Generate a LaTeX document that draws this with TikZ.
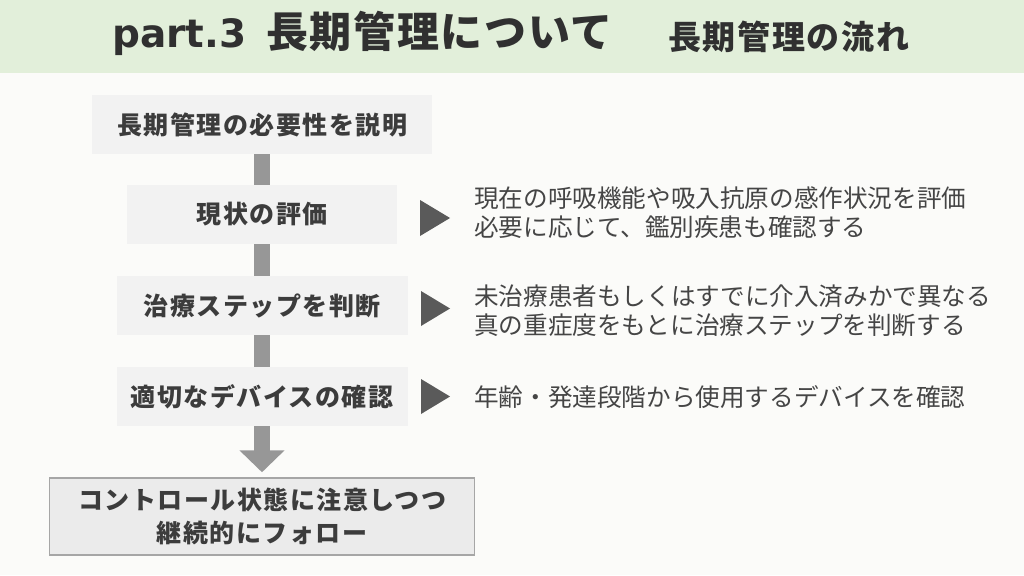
\documentclass[tikz,border=0pt]{standalone}
\usepackage{fontspec}
\usetikzlibrary{arrows.meta,calc}
\newfontfamily\jp{Noto Sans CJK JP}
\newfontfamily\jpsp{Noto Sans CJK JP}[LetterSpace=6]
\newfontfamily\jptitle{Noto Sans CJK JP}[LetterSpace=4]
\newfontfamily\jpsub{Noto Sans CJK JP}[LetterSpace=5]
\newfontfamily\lat{DejaVu Sans}
\definecolor{bgc}{HTML}{FBFBF9}
\definecolor{hdr}{HTML}{E2EFDA}
\definecolor{boxc}{HTML}{F2F2F2}
\definecolor{barc}{HTML}{979797}
\definecolor{tric}{HTML}{5A5A5A}
\definecolor{finc}{HTML}{EBEBEB}
\definecolor{finb}{HTML}{A6A6A6}
\definecolor{txt}{HTML}{3C3C3C}
\definecolor{titc}{HTML}{303030}
\definecolor{body}{HTML}{454545}
\tikzset{
  stepbox/.style={fill=boxc, inner sep=0pt, minimum height=59pt, text=txt,
    font={\jpsp\bfseries\fontsize{25}{30}\selectfont}},
  bar/.style={draw=barc, line width=16pt},
  marker/.style={fill=tric},
  desc/.style={anchor=west, inner sep=0pt, align=left, text=body,
    font={\jp\fontsize{24.6}{29}\selectfont}},
}
\begin{document}
\begin{tikzpicture}[x=1pt,y=-1pt]
\useasboundingbox (0,0) rectangle (1024,575);
\fill[bgc] (0,0) rectangle (1024,575);
\fill[hdr] (0,0) rectangle (1024,73);
\node[anchor=west, inner sep=0pt, text=titc, font={\jptitle\bfseries\fontsize{42}{46}\selectfont}] (title) at (112,33) {{\lat\bfseries\fontsize{39}{44}\selectfont part.3}\hspace{20pt}長期管理について};
\node[anchor=west, inner sep=0pt, text=titc, font={\jpsub\bfseries\fontsize{33}{38}\selectfont}] (subtitle) at (668,37) {長期管理の流れ};

\node[stepbox, minimum width=340pt] (b1) at (262,124.5) {長期管理の必要性を説明};
\node[stepbox, minimum width=270pt] (b2) at (262,214.5) {現状の評価};
\node[stepbox, minimum width=291pt] (b3) at (262,305.5) {治療ステップを判断};
\node[stepbox, minimum width=291pt] (b4) at (262,396.5) {適切なデバイスの確認};
\node[stepbox, fill=finc, draw=finb, line width=1.5pt, minimum width=425pt, minimum height=77pt, align=center,
  font={\jpsp\bfseries\fontsize{25}{33}\selectfont}] (fin) at (262,516.5) {コントロール状態に注意しつつ\\継続的にフォロー};

\draw[bar] (b1.south) -- (b2.north);
\draw[bar] (b2.south) -- (b3.north);
\draw[bar] (b3.south) -- (b4.north);
\draw[bar, -{Triangle[width=44pt,length=22pt]}] (b4.south) -- ($(fin.north)+(0,-5)$);

\fill[marker] (420,200) -- (450,218) -- (420,236) -- cycle;
\fill[marker] (421,291) -- (450,308.5) -- (421,326) -- cycle;
\fill[marker] (421,379) -- (450,396.5) -- (421,414) -- cycle;

\node[desc] (d1) at (474,212.5) {現在の呼吸機能や吸入抗原の感作状況を評価\\必要に応じて、鑑別疾患も確認する};
\node[desc] (d2) at (474,311) {未治療患者もしくはすでに介入済みかで異なる\\真の重症度をもとに治療ステップを判断する};
\node[desc] (d3) at (474,397) {年齢・発達段階から使用するデバイスを確認};
\end{tikzpicture}
\end{document}
